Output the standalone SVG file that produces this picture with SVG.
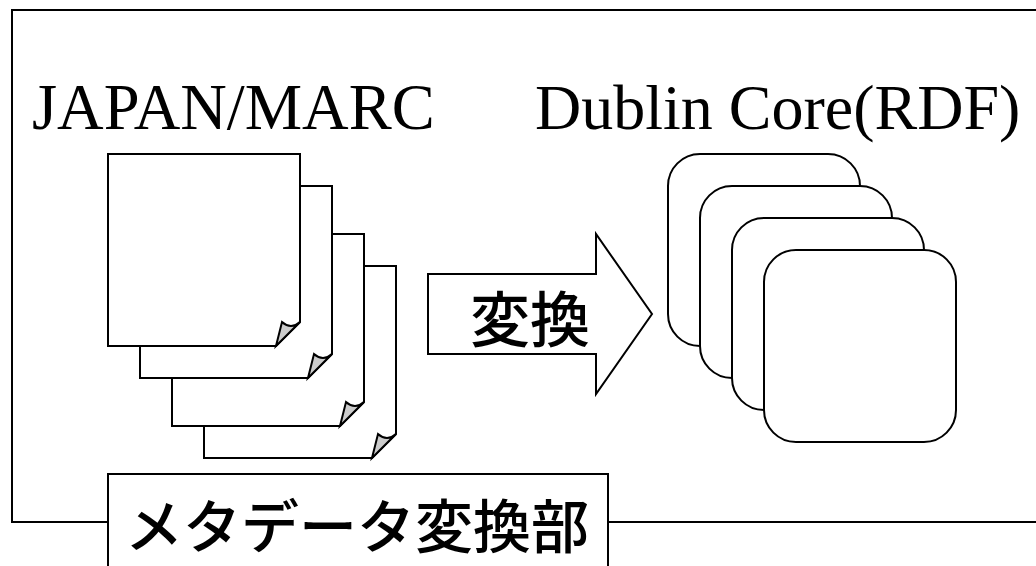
<svg xmlns="http://www.w3.org/2000/svg" width="1036" height="566" viewBox="0 0 1036 566">
<style>
.s{fill:#fff;stroke:#000;stroke-width:2;stroke-linejoin:miter}
.f{fill:#ccc;stroke:#000;stroke-width:2;stroke-linejoin:miter}
.l{font-family:"Liberation Serif",serif;fill:#000}
.j{font-family:"Noto Sans CJK JP",sans-serif;font-weight:500;fill:#000;text-anchor:middle}
</style>
<defs>
<g id="doc">
<path class="s" d="M0 0H192V168L168 192H0Z"/>
<path class="f" d="M168 192L174 168Q183 176 192 168Z"/>
</g>
<rect id="card" class="s" width="192" height="192" rx="32" ry="32"/>
</defs>
<rect width="1036" height="566" fill="#fff"/>
<g id="frame"><rect class="s" x="12" y="10" width="1040" height="512"/></g>
<g id="label-japan-marc"><text class="l" x="32" y="129" font-size="64.5">JAPAN/MARC</text></g>
<g id="label-dublin-core"><text class="l" x="535" y="129" font-size="64">Dublin Core(RDF)</text></g>
<g id="doc4"><use href="#doc" x="204" y="266"/></g>
<g id="doc3"><use href="#doc" x="172" y="234"/></g>
<g id="doc2"><use href="#doc" x="140" y="186"/></g>
<g id="doc1"><use href="#doc" x="108" y="154"/></g>
<g id="convert-arrow">
<path class="s" d="M428 274H596V234L652 314L596 394V354H428Z"/>
<text class="j" x="530" y="342" font-size="60">変換</text>
</g>
<g id="card1"><use href="#card" x="668" y="154"/></g>
<g id="card2"><use href="#card" x="700" y="186"/></g>
<g id="card3"><use href="#card" x="732" y="218"/></g>
<g id="card4"><use href="#card" x="764" y="250"/></g>
<g id="title">
<rect class="s" x="108" y="474" width="500" height="110"/>
<text class="j" x="357" y="548" font-size="58">メタデータ変換部</text>
</g>
<g id="connectors"></g>
</svg>
